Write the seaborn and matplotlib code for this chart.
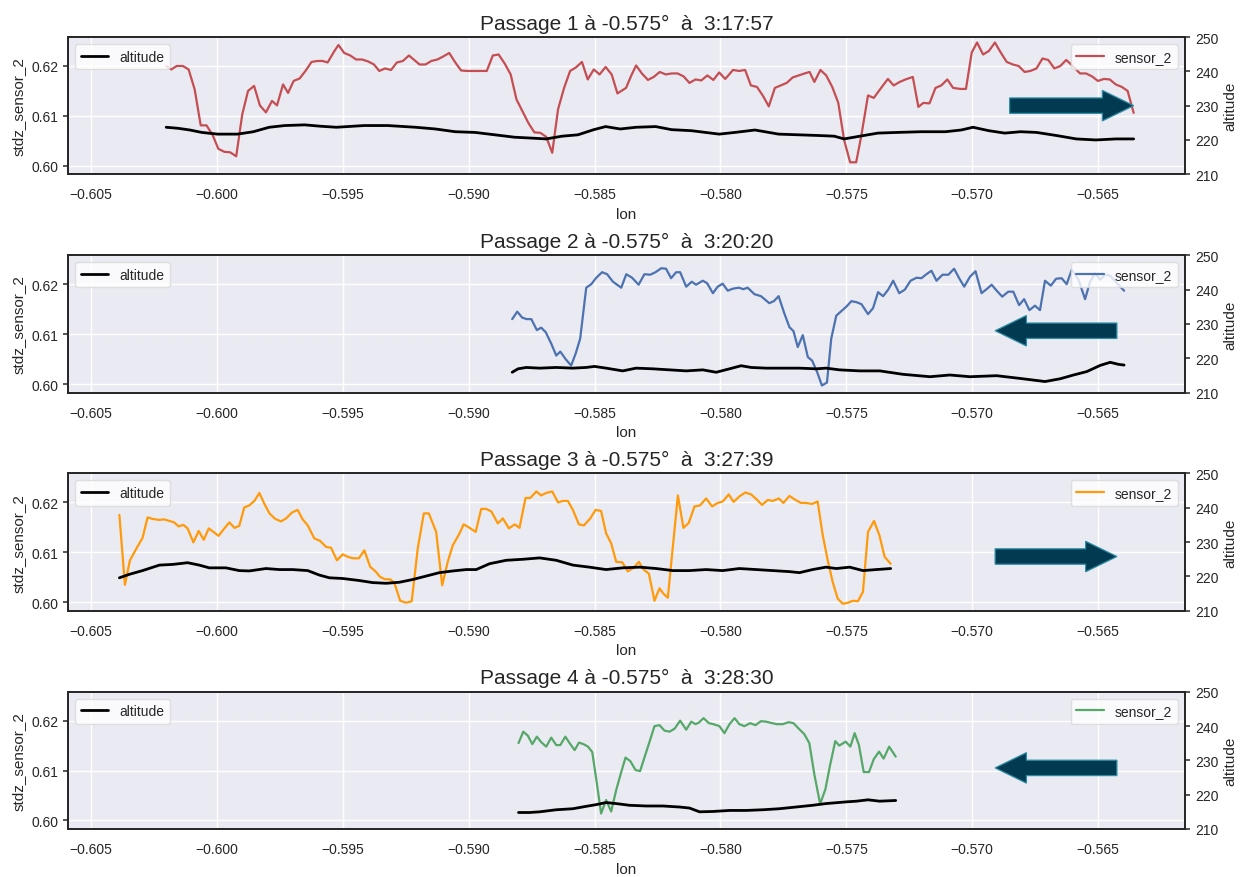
import numpy as np
import seaborn as sns
import matplotlib.pyplot as plt
from matplotlib.patches import FancyArrow

# ---- passage 1 ----
p1_lon = [-0.60201, -0.60181, -0.60159, -0.60135, -0.60112, -0.60088, -0.60064, -0.60041, -0.60017, -0.59994,
          -0.59970, -0.59947, -0.59923, -0.59899, -0.59876, -0.59852, -0.59829, -0.59805, -0.59781, -0.59761,
          -0.59737, -0.59717, -0.59695, -0.59671, -0.59648, -0.59624, -0.59601, -0.59580, -0.59560, -0.59533,
          -0.59517, -0.59494, -0.59470, -0.59447, -0.59423, -0.59399, -0.59376, -0.59355, -0.59332, -0.59308,
          -0.59285, -0.59261, -0.59237, -0.59214, -0.59195, -0.59171, -0.59148, -0.59124, -0.59101, -0.59077,
          -0.59053, -0.59030, -0.59006, -0.58978, -0.58951, -0.58928, -0.58904, -0.58881, -0.58857, -0.58833,
          -0.58810, -0.58786, -0.58763, -0.58739, -0.58715, -0.58692, -0.58668, -0.58645, -0.58621, -0.58597,
          -0.58574, -0.58550, -0.58527, -0.58503, -0.58480, -0.58456, -0.58432, -0.58409,
          -0.58375, -0.58354, -0.58335, -0.58312, -0.58288, -0.58265, -0.58241, -0.58217, -0.58194, -0.58170,
          -0.58146, -0.58123, -0.58099, -0.58076, -0.58052, -0.58028, -0.58005, -0.57981, -0.57950, -0.57926,
          -0.57902, -0.57879, -0.57855, -0.57831, -0.57808, -0.57784, -0.57761, -0.57737, -0.57713, -0.57690,
          -0.57666, -0.57646, -0.57627, -0.57603, -0.57580, -0.57556, -0.57532, -0.57509, -0.57485, -0.57461,
          -0.57441, -0.57414, -0.57391, -0.57359, -0.57335, -0.57312, -0.57288, -0.57265, -0.57236, -0.57214,
          -0.57194, -0.57170, -0.57146, -0.57123, -0.57099, -0.57076, -0.57047, -0.57025, -0.57002, -0.56981,
          -0.56957, -0.56934, -0.56910, -0.56887, -0.56863, -0.56839, -0.56816, -0.56792, -0.56769, -0.56745,
          -0.56721, -0.56698, -0.56674, -0.56650, -0.56627, -0.56603, -0.56572, -0.56548, -0.56524, -0.56501,
          -0.56477, -0.56454, -0.56430, -0.56406, -0.56383, -0.56359]
p1_sensor = [0.6200, 0.6193, 0.6200, 0.6200, 0.6193, 0.6153, 0.6081, 0.6081, 0.6062, 0.6034,
             0.6028, 0.6027, 0.6019, 0.6103, 0.6150, 0.6160, 0.6121, 0.6107, 0.6130, 0.6121,
             0.6163, 0.6146, 0.6170, 0.6175, 0.6190, 0.6208, 0.6210, 0.6210, 0.6207, 0.6230,
             0.6242, 0.6226, 0.6221, 0.6213, 0.6213, 0.6209, 0.6203, 0.6190, 0.6195, 0.6192,
             0.6207, 0.6210, 0.6221, 0.6211, 0.6203, 0.6203, 0.6210, 0.6213, 0.6219, 0.6226,
             0.6207, 0.6191, 0.6190, 0.6190, 0.6190, 0.6190, 0.6221, 0.6223, 0.6205, 0.6183,
             0.6133, 0.6109, 0.6086, 0.6067, 0.6066, 0.6058, 0.6026, 0.6113, 0.6156, 0.6190,
             0.6197, 0.6208, 0.6173, 0.6193, 0.6183, 0.6198, 0.6183, 0.6145,
             0.6156, 0.6181, 0.6201, 0.6185, 0.6172, 0.6178, 0.6188, 0.6183, 0.6185, 0.6185,
             0.6179, 0.6166, 0.6173, 0.6171, 0.6181, 0.6172, 0.6187, 0.6174, 0.6192, 0.6190,
             0.6192, 0.6161, 0.6158, 0.6140, 0.6119, 0.6156, 0.6161, 0.6166, 0.6177, 0.6181,
             0.6185, 0.6188, 0.6168, 0.6192, 0.6181, 0.6158, 0.6126, 0.6052, 0.6007, 0.6007,
             0.6059, 0.6141, 0.6136, 0.6158, 0.6174, 0.6161, 0.6168, 0.6173, 0.6178, 0.6118,
             0.6126, 0.6125, 0.6156, 0.6161, 0.6173, 0.6156, 0.6154, 0.6154, 0.6227, 0.6247,
             0.6223, 0.6230, 0.6247, 0.6227, 0.6208, 0.6203, 0.6200, 0.6188, 0.6190, 0.6195,
             0.6215, 0.6212, 0.6195, 0.6200, 0.6212, 0.6201, 0.6185, 0.6185, 0.6179, 0.6170,
             0.6174, 0.6173, 0.6163, 0.6158, 0.6150, 0.6106]
p1_alt_lon = [-0.60201, -0.60154, -0.60107, -0.60060, -0.59997, -0.59918, -0.59855, -0.59792, -0.59730, -0.59651,
              -0.59588, -0.59525, -0.59415, -0.59321, -0.59211, -0.59132, -0.59053, -0.58975, -0.58896, -0.58818,
              -0.58739, -0.58692, -0.58629, -0.58566, -0.58503, -0.58456, -0.58398, -0.58335, -0.58257, -0.58194,
              -0.58115, -0.58005, -0.57942, -0.57863, -0.57769, -0.57690, -0.57611, -0.57548, -0.57509, -0.57454,
              -0.57375, -0.57296, -0.57202, -0.57107, -0.57044, -0.56997, -0.56934, -0.56871, -0.56808, -0.56745,
              -0.56666, -0.56587, -0.56509, -0.56430, -0.56359]
p1_alt = [223.7, 223.4, 222.9, 222.2, 221.7, 221.7, 222.4, 223.7, 224.2, 224.4,
          224.0, 223.7, 224.2, 224.2, 223.7, 223.2, 222.4, 222.2, 221.5, 220.8,
          220.5, 220.3, 221.1, 221.5, 223.0, 223.9, 223.2, 223.7, 223.9, 223.0,
          222.7, 221.7, 222.2, 222.9, 221.7, 221.5, 221.3, 221.1, 220.3, 221.0,
          222.0, 222.2, 222.4, 222.4, 222.9, 223.7, 222.7, 222.0, 222.4, 222.2,
          221.3, 220.3, 220.0, 220.3, 220.3]

# ---- passage 2 ----
p2_lon = [-0.58827, -0.58807, -0.58787, -0.58769, -0.58751, -0.58729, -0.58712, -0.58694, -0.58672, -0.58652,
          -0.58636, -0.58615, -0.58593, -0.58575, -0.58557, -0.58533, -0.58513, -0.58493, -0.58470, -0.58450,
          -0.58427, -0.58394, -0.58374, -0.58351, -0.58325, -0.58302, -0.58279, -0.58258, -0.58235, -0.58216,
          -0.58196, -0.58176, -0.58160, -0.58136, -0.58114, -0.58097, -0.58070, -0.58053, -0.58030, -0.58011,
          -0.57991, -0.57971, -0.57951, -0.57927, -0.57909, -0.57892, -0.57865, -0.57839, -0.57806, -0.57788,
          -0.57769, -0.57746, -0.57726, -0.57710, -0.57693, -0.57673, -0.57653, -0.57636, -0.57616, -0.57597,
          -0.57577,
          -0.57560, -0.57540, -0.57520, -0.57500, -0.57480, -0.57460, -0.57440, -0.57414, -0.57394, -0.57374,
          -0.57354, -0.57334, -0.57314, -0.57290, -0.57268, -0.57245, -0.57221, -0.57202, -0.57182, -0.57162,
          -0.57142, -0.57118, -0.57095, -0.57072, -0.57052, -0.57032, -0.57009, -0.56987, -0.56963, -0.56943,
          -0.56923, -0.56903, -0.56881, -0.56857, -0.56837, -0.56814, -0.56794, -0.56773, -0.56751, -0.56731,
          -0.56711, -0.56688, -0.56667, -0.56645, -0.56625, -0.56605, -0.56578, -0.56552, -0.56532, -0.56512,
          -0.56492, -0.56472, -0.56452, -0.56426, -0.56397]
p2_sensor = [0.6130, 0.6145, 0.6133, 0.6130, 0.6130, 0.6108, 0.6113, 0.6104, 0.6081, 0.6057,
             0.6065, 0.6050, 0.6037, 0.6061, 0.6091, 0.6193, 0.6200, 0.6213, 0.6224, 0.6220,
             0.6205, 0.6193, 0.6220, 0.6213, 0.6199, 0.6220, 0.6219, 0.6224, 0.6232, 0.6231,
             0.6212, 0.6224, 0.6224, 0.6195, 0.6205, 0.6199, 0.6207, 0.6202, 0.6182, 0.6195,
             0.6201, 0.6187, 0.6191, 0.6193, 0.6190, 0.6193, 0.6180, 0.6176, 0.6162, 0.6166,
             0.6176, 0.6141, 0.6114, 0.6106, 0.6074, 0.6098, 0.6054, 0.6047, 0.6024, 0.5997,
             0.6003,
             0.6091, 0.6137, 0.6146, 0.6155, 0.6166, 0.6164, 0.6160, 0.6140, 0.6152, 0.6184,
             0.6176, 0.6189, 0.6207, 0.6182, 0.6189, 0.6207, 0.6213, 0.6212, 0.6220, 0.6227,
             0.6207, 0.6219, 0.6219, 0.6231, 0.6212, 0.6195, 0.6215, 0.6226, 0.6182, 0.6190,
             0.6199, 0.6187, 0.6175, 0.6185, 0.6185, 0.6158, 0.6170, 0.6148, 0.6157, 0.6148,
             0.6207, 0.6197, 0.6211, 0.6212, 0.6200, 0.6229, 0.6209, 0.6170, 0.6205, 0.6222,
             0.6209, 0.6219, 0.6217, 0.6202, 0.6187]
p2_alt_lon = [-0.58827, -0.58804, -0.58771, -0.58718, -0.58652, -0.58586, -0.58533, -0.58500, -0.58454, -0.58388,
              -0.58335, -0.58268, -0.58202, -0.58136, -0.58070, -0.58017, -0.57964, -0.57918, -0.57878, -0.57819,
              -0.57753, -0.57686, -0.57620, -0.57580, -0.57527, -0.57447, -0.57367, -0.57275, -0.57168, -0.57089,
              -0.57009, -0.56903, -0.56810, -0.56711, -0.56651, -0.56598, -0.56545, -0.56492, -0.56452, -0.56419,
              -0.56397]
p2_alt = [215.9, 216.9, 217.3, 217.1, 217.3, 217.1, 217.3, 217.6, 217.1, 216.3,
          217.1, 216.9, 216.6, 216.3, 216.6, 215.9, 216.9, 217.8, 217.3, 217.1,
          217.1, 217.1, 216.9, 217.1, 216.6, 216.3, 216.3, 215.3, 214.6, 215.1,
          214.6, 214.9, 214.1, 213.2, 214.0, 215.1, 216.1, 217.9, 218.8, 218.2,
          218.0]

# ---- passage 3 ----
p3_lon = [-0.60387, -0.60365, -0.60345, -0.60319, -0.60295, -0.60275, -0.60255, -0.60231, -0.60209, -0.60189,
          -0.60169, -0.60152, -0.60133, -0.60116, -0.60093, -0.60072, -0.60052, -0.60032, -0.60014, -0.59993,
          -0.59970, -0.59950, -0.59930, -0.59911, -0.59891, -0.59871, -0.59851, -0.59831, -0.59811, -0.59791,
          -0.59768, -0.59745, -0.59725, -0.59701, -0.59679, -0.59659, -0.59639, -0.59613, -0.59590, -0.59566,
          -0.59546, -0.59523, -0.59500, -0.59480, -0.59458, -0.59436, -0.59414, -0.59391, -0.59370, -0.59352,
          -0.59332, -0.59312, -0.59295, -0.59272, -0.59248, -0.59226, -0.59202, -0.59178, -0.59158, -0.59129,
          -0.59105, -0.59083, -0.59063, -0.59036,
          -0.59020, -0.58999, -0.58972, -0.58950, -0.58930, -0.58910, -0.58884, -0.58864, -0.58840, -0.58817,
          -0.58798, -0.58774, -0.58755, -0.58731, -0.58712, -0.58692, -0.58668, -0.58645, -0.58626, -0.58606,
          -0.58586, -0.58562, -0.58542, -0.58517, -0.58496, -0.58474, -0.58454, -0.58434, -0.58414, -0.58390,
          -0.58368, -0.58345, -0.58324, -0.58306, -0.58284, -0.58262, -0.58242, -0.58226, -0.58209, -0.58189,
          -0.58169, -0.58147, -0.58126, -0.58103, -0.58081, -0.58057, -0.58033, -0.58011, -0.57991, -0.57967,
          -0.57948, -0.57925, -0.57901, -0.57878, -0.57856, -0.57835, -0.57812, -0.57792, -0.57768, -0.57750,
          -0.57726, -0.57702, -0.57680, -0.57660, -0.57636, -0.57614, -0.57594,
          -0.57574, -0.57554, -0.57534, -0.57514, -0.57494, -0.57474, -0.57454, -0.57434, -0.57414, -0.57390,
          -0.57368, -0.57348, -0.57324]
p3_sensor = [0.6175, 0.6035, 0.6084, 0.6108, 0.6129, 0.6170, 0.6167, 0.6165, 0.6166, 0.6163,
             0.6160, 0.6152, 0.6155, 0.6148, 0.6120, 0.6143, 0.6125, 0.6148, 0.6141, 0.6133,
             0.6148, 0.6160, 0.6149, 0.6153, 0.6190, 0.6194, 0.6203, 0.6219, 0.6197, 0.6178,
             0.6167, 0.6162, 0.6168, 0.6180, 0.6185, 0.6166, 0.6154, 0.6128, 0.6123, 0.6111,
             0.6109, 0.6084, 0.6096, 0.6091, 0.6088, 0.6088, 0.6104, 0.6071, 0.6062, 0.6051,
             0.6046, 0.6046, 0.6039, 0.6003, 0.5999, 0.6002, 0.6108, 0.6178, 0.6178, 0.6141,
             0.6034, 0.6081, 0.6114, 0.6138,
             0.6156, 0.6150, 0.6141, 0.6187, 0.6187, 0.6182, 0.6158, 0.6168, 0.6148, 0.6156,
             0.6149, 0.6209, 0.6209, 0.6222, 0.6214, 0.6219, 0.6222, 0.6200, 0.6203, 0.6203,
             0.6185, 0.6156, 0.6154, 0.6168, 0.6185, 0.6183, 0.6138, 0.6118, 0.6081, 0.6080,
             0.6062, 0.6069, 0.6081, 0.6066, 0.6057, 0.6003, 0.6028, 0.6017, 0.6009, 0.6111,
             0.6214, 0.6149, 0.6159, 0.6192, 0.6194, 0.6208, 0.6192, 0.6199, 0.6202, 0.6216,
             0.6201, 0.6212, 0.6220, 0.6216, 0.6206, 0.6195, 0.6205, 0.6203, 0.6208, 0.6199,
             0.6213, 0.6205, 0.6199, 0.6199, 0.6197, 0.6202, 0.6135,
             0.6084, 0.6040, 0.6007, 0.5997, 0.5999, 0.6003, 0.6002, 0.6021, 0.6141, 0.6163,
             0.6133, 0.6091, 0.6077]
p3_alt_lon = [-0.60387, -0.60348, -0.60295, -0.60228, -0.60175, -0.60116, -0.60070, -0.60030, -0.59964, -0.59911,
              -0.59871, -0.59805, -0.59752, -0.59699, -0.59639, -0.59593, -0.59553, -0.59500, -0.59434, -0.59381,
              -0.59328, -0.59275, -0.59222, -0.59169, -0.59116, -0.59062, -0.59009, -0.58970, -0.58917, -0.58851,
              -0.58784, -0.58718, -0.58652, -0.58586, -0.58520, -0.58454, -0.58388, -0.58321, -0.58255, -0.58189,
              -0.58123, -0.58057, -0.57991, -0.57925, -0.57858, -0.57792, -0.57726, -0.57686, -0.57634, -0.57581,
              -0.57540, -0.57487, -0.57434, -0.57381, -0.57324]
p3_alt = [219.6, 220.6, 221.7, 223.3, 223.5, 224.0, 223.3, 222.5, 222.5, 221.7,
          221.6, 222.3, 222.0, 222.0, 221.7, 220.4, 219.6, 219.4, 218.8, 218.2,
          218.0, 218.3, 219.1, 220.1, 221.1, 221.6, 222.0, 222.0, 223.7, 224.7,
          225.0, 225.4, 224.7, 223.3, 222.7, 222.0, 222.5, 222.7, 222.3, 221.7,
          221.7, 222.0, 221.7, 222.3, 222.0, 221.7, 221.4, 221.1, 222.0, 222.7,
          222.3, 222.7, 221.7, 222.0, 222.3]

# ---- passage 4 ----
p4_lon = [-0.58802, -0.58783, -0.58765, -0.58747, -0.58729, -0.58712, -0.58692, -0.58672, -0.58652, -0.58636,
          -0.58616, -0.58599, -0.58579, -0.58562, -0.58544, -0.58526, -0.58509, -0.58491, -0.58474, -0.58454,
          -0.58434, -0.58414, -0.58394, -0.58377, -0.58358, -0.58337, -0.58319, -0.58302, -0.58282, -0.58262,
          -0.58242, -0.58222, -0.58202, -0.58182, -0.58160, -0.58136, -0.58116, -0.58099, -0.58086, -0.58067,
          -0.58046, -0.58028, -0.58004, -0.57984, -0.57964, -0.57944, -0.57925, -0.57905, -0.57882, -0.57861,
          -0.57839, -0.57819, -0.57795, -0.57776, -0.57753, -0.57729, -0.57710, -0.57689, -0.57667, -0.57647,
          -0.57627, -0.57604, -0.57583, -0.57565, -0.57544, -0.57528,
          -0.57503, -0.57484, -0.57467, -0.57450, -0.57431, -0.57410, -0.57391, -0.57370, -0.57352, -0.57330,
          -0.57304]
p4_sensor = [0.6155, 0.6178, 0.6170, 0.6153, 0.6168, 0.6157, 0.6148, 0.6166, 0.6151, 0.6151,
             0.6168, 0.6155, 0.6141, 0.6156, 0.6153, 0.6148, 0.6137, 0.6075, 0.6014, 0.6041,
             0.6018, 0.6061, 0.6097, 0.6126, 0.6119, 0.6101, 0.6099, 0.6126, 0.6157, 0.6189,
             0.6191, 0.6180, 0.6178, 0.6184, 0.6200, 0.6182, 0.6198, 0.6193, 0.6196, 0.6205,
             0.6195, 0.6193, 0.6189, 0.6175, 0.6193, 0.6205, 0.6193, 0.6189, 0.6195, 0.6191,
             0.6199, 0.6198, 0.6195, 0.6193, 0.6193, 0.6197, 0.6195, 0.6184, 0.6173, 0.6155,
             0.6092, 0.6033, 0.6063, 0.6110, 0.6159, 0.6150,
             0.6158, 0.6148, 0.6175, 0.6151, 0.6097, 0.6097, 0.6123, 0.6138, 0.6124, 0.6148,
             0.6128]
p4_alt_lon = [-0.58802, -0.58758, -0.58718, -0.58652, -0.58586, -0.58533, -0.58493, -0.58454, -0.58414, -0.58361,
              -0.58295, -0.58229, -0.58163, -0.58123, -0.58083, -0.58030, -0.57964, -0.57898, -0.57832, -0.57766,
              -0.57700, -0.57634, -0.57581, -0.57500, -0.57460, -0.57414, -0.57368, -0.57304]
p4_alt = [214.8, 214.8, 215.0, 215.6, 215.9, 216.6, 217.1, 217.7, 217.4, 216.9,
          216.7, 216.7, 216.4, 216.1, 215.0, 215.1, 215.4, 215.4, 215.6, 215.9,
          216.4, 216.9, 217.4, 217.9, 218.1, 218.5, 218.1, 218.3]

passage_times = ["3:17:57", "3:20:20", "3:27:39", "3:28:30"]
passage_colors = ["#C44E52", "#4C72B0", "#FF9A0A", "#55A868"]
passage_dirs = ["right", "left", "right", "left"]
arrow_heights = [0.50, 0.45, 0.395, 0.445]

lon_ticks = [-0.605, -0.600, -0.595, -0.590, -0.585, -0.580, -0.575, -0.570, -0.565]
sensor_ticks = [0.60, 0.61, 0.62]
alt_ticks = [210, 220, 230, 240, 250]

passages = [
    (p1_lon, p1_sensor, p1_alt_lon, p1_alt),
    (p2_lon, p2_sensor, p2_alt_lon, p2_alt),
    (p3_lon, p3_sensor, p3_alt_lon, p3_alt),
    (p4_lon, p4_sensor, p4_alt_lon, p4_alt),
]

sns.set_theme(style="darkgrid", rc={
    "axes.edgecolor": "0.15",
    "axes.linewidth": 1.25,
    "ytick.left": True,
    "ytick.right": True,
    "ytick.major.size": 3.5,
    "ytick.major.width": 1.1,
    "ytick.color": "0.15",
    "xtick.color": "0.15",
})
plt.rcParams['font.family'] = ['Liberation Sans', 'DejaVu Sans']

fig, axes = plt.subplots(4, 1, figsize=(12.41, 8.78), dpi=100)
fig.subplots_adjust(left=0.0548, right=0.9549, top=0.9567, bottom=0.0547, hspace=0.59)

for i, ax in enumerate(axes):
    lon, sensor, alt_lon, alt = passages[i]
    sns.lineplot(x=lon, y=sensor, ax=ax, color=passage_colors[i], lw=1.6,
                 estimator=None, label="sensor_2")
    ax.set_xlim(-0.60591, -0.56155)
    ax.set_ylim(0.5983, 0.6258)
    ax.set_xticks(lon_ticks)
    ax.set_yticks(sensor_ticks)
    ax.set_yticklabels([f"{t:.2f}" for t in sensor_ticks])
    ax.tick_params(labelsize=10)
    ax.set_xlabel("lon", fontsize=11, color="0.15")
    ax.set_ylabel("stdz_sensor_2", fontsize=11, color="0.15")
    ax.set_title(f"Passage {i + 1} à -0.575°  à  {passage_times[i]}", fontsize=15, color="0.15")
    ax.legend(loc="upper right", fontsize=10, facecolor="white", framealpha=0.8, edgecolor="0.85")

    ax2 = ax.twinx()
    sns.lineplot(x=alt_lon, y=alt, ax=ax2, color="black", lw=2.0,
                 estimator=None, label="altitude")
    ax2.set_ylim(210, 250)
    ax2.set_yticks(alt_ticks)
    ax2.grid(False)
    ax2.tick_params(labelsize=10, right=True, length=3.5)
    ax2.set_ylabel("altitude", fontsize=11, color="0.15")
    ax2.legend(loc="upper left", fontsize=10, facecolor="white", framealpha=0.8, edgecolor="0.85")

    if passage_dirs[i] == "right":
        x0, dx = 0.843 if i == 0 else 0.830, 0.111 if i == 0 else 0.109
    else:
        x0, dx = 0.939, -0.109
    arrow = FancyArrow(x0, arrow_heights[i], dx, 0, width=0.112, head_width=0.222,
                       head_length=0.028, length_includes_head=True,
                       transform=ax2.transAxes, facecolor="#023a52",
                       edgecolor="#2b8ca3", lw=0.9, zorder=5)
    ax2.add_patch(arrow)

fig.savefig("out.png", dpi=100)
